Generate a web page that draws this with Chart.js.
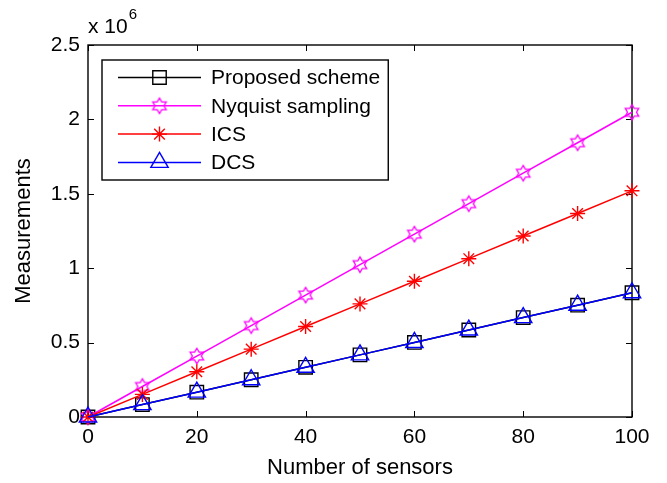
<!DOCTYPE html>
<html>
<head>
<meta charset="utf-8">
<script src="https://cdn.jsdelivr.net/npm/chart.js@4.4.1/dist/chart.umd.min.js"></script>
<style>
  html, body { margin: 0; padding: 0; background: #fff; }
  #wrap { width: 667px; height: 483px; }
</style>
</head>
<body>
<div id="wrap"><canvas id="chart" width="667" height="483"></canvas></div>
<script>
const sensors = [0, 10, 20, 30, 40, 50, 60, 70, 80, 90, 100];
const proposed = [0, 83500, 167000, 250500, 334000, 417500, 501000, 584500, 668000, 751500, 835000];
const nyquist = [0, 204800, 409600, 614400, 819200, 1024000, 1228800, 1433600, 1638400, 1843200, 2048000];
const ics = [0, 152000, 304000, 456000, 608000, 760000, 912000, 1064000, 1216000, 1368000, 1520000];
const dcs = [0, 83500, 167000, 250500, 334000, 417500, 501000, 584500, 668000, 751500, 835000];
const seriesLabels = ['Proposed scheme', 'Nyquist sampling', 'ICS', 'DCS'];
const xTicks = [0, 20, 40, 60, 80, 100];
const yTicks = [0, 500000, 1000000, 1500000, 2000000, 2500000];

const FONT = "'Liberation Sans', Arial, Helvetica, sans-serif";

// hexagram marker (MATLAB 'h'), drawn once to an offscreen canvas
function hexagram(color, R) {
  const s = Math.ceil(R * 2 + 4);
  const c = document.createElement('canvas');
  c.width = s; c.height = s;
  const g = c.getContext('2d');
  const r = R / Math.sqrt(3);
  g.beginPath();
  for (let k = 0; k < 12; k++) {
    const a = -Math.PI / 2 + k * Math.PI / 6;
    const rr = k % 2 === 0 ? R : r;
    const px = s / 2 + rr * Math.cos(a), py = s / 2 + rr * Math.sin(a);
    if (k === 0) g.moveTo(px, py); else g.lineTo(px, py);
  }
  g.closePath();
  g.strokeStyle = color;
  g.lineWidth = 1.3;
  g.stroke();
  return c;
}

const toXY = arr => arr.map((v, i) => ({ x: sensors[i], y: v }));

const datasets = [
  { label: seriesLabels[0], data: toXY(proposed), borderColor: '#000000', pointStyle: 'rect', pointRadius: 9.5, order: 4 },
  { label: seriesLabels[1], data: toXY(nyquist), borderColor: '#ff00ff', pointStyle: hexagram('#ff00ff', 7.8), pointRadius: 8, order: 3 },
  { label: seriesLabels[2], data: toXY(ics), borderColor: '#ff0000', pointStyle: 'star', pointRadius: 7.5, order: 2 },
  { label: seriesLabels[3], data: toXY(dcs), borderColor: '#0000ff', pointStyle: 'triangle', pointRadius: 10, order: 1 },
].map(d => Object.assign({
  borderWidth: 1.5,
  pointBorderColor: d.borderColor,
  pointBackgroundColor: 'rgba(0,0,0,0)',
  pointBorderWidth: 1.4,
  pointHoverRadius: d.pointRadius,
  fill: false,
  tension: 0,
  clip: false,
}, d));

// MATLAB style box, inward ticks, exponent label
const axesBox = {
  id: 'axesBox',
  beforeDatasetsDraw(chart) {
    const { ctx, chartArea: a, scales } = chart;
    ctx.save();
    ctx.strokeStyle = '#000';
    ctx.lineWidth = 1.4;
    ctx.strokeRect(a.left, a.top, a.right - a.left, a.bottom - a.top);
    ctx.lineWidth = 1;
    const tl = 6;
    ctx.beginPath();
    xTicks.forEach(v => {
      const px = Math.round(scales.x.getPixelForValue(v)) + 0.5;
      ctx.moveTo(px, a.bottom); ctx.lineTo(px, a.bottom - tl);
      ctx.moveTo(px, a.top); ctx.lineTo(px, a.top + tl);
    });
    yTicks.forEach(v => {
      const py = Math.round(scales.y.getPixelForValue(v)) + 0.5;
      ctx.moveTo(a.left, py); ctx.lineTo(a.left + tl, py);
      ctx.moveTo(a.right, py); ctx.lineTo(a.right - tl, py);
    });
    ctx.stroke();
    ctx.fillStyle = '#000';
    ctx.textBaseline = 'alphabetic';
    ctx.textAlign = 'left';
    ctx.font = '21px ' + FONT;
    ctx.fillText('x 10', a.left, 33);
    const w = ctx.measureText('x 10').width;
    ctx.font = '15px ' + FONT;
    ctx.fillText('6', a.left + w + 1, 19);
    ctx.restore();
  }
};

// MATLAB style legend: line sample with marker in the middle
const matLegend = {
  id: 'matLegend',
  afterDatasetsDraw(chart) {
    const { ctx } = chart;
    const drawPoint = Chart.helpers.drawPoint;
    const left = 102, top = 60, rowH = 28.3, firstY = 77.5;
    const lineX0 = 118, lineX1 = 201, textX = 211;
    ctx.save();
    ctx.font = '21px ' + FONT;
    const maxW = Math.max(...chart.data.datasets.map(d => ctx.measureText(d.label).width));
    const right = textX + maxW + 8;
    const bottom = 180;
    ctx.fillStyle = '#fff';
    ctx.fillRect(left, top, right - left, bottom - top);
    ctx.strokeStyle = '#000';
    ctx.lineWidth = 1.4;
    ctx.strokeRect(left, top, right - left, bottom - top);
    chart.data.datasets.forEach((d, i) => {
      const y = firstY + i * rowH;
      ctx.strokeStyle = d.borderColor;
      ctx.lineWidth = d.borderWidth;
      ctx.beginPath();
      ctx.moveTo(lineX0, y); ctx.lineTo(lineX1, y);
      ctx.stroke();
      ctx.fillStyle = 'rgba(0,0,0,0)';
      ctx.strokeStyle = d.borderColor;
      ctx.lineWidth = d.pointBorderWidth;
      drawPoint(ctx, { pointStyle: d.pointStyle, radius: d.pointRadius, rotation: 0, borderWidth: d.pointBorderWidth }, (lineX0 + lineX1) / 2, y);
      ctx.fillStyle = '#000';
      ctx.textBaseline = 'middle';
      ctx.textAlign = 'left';
      ctx.fillText(d.label, textX, y + 1);
    });
    ctx.restore();
  }
};

new Chart(document.getElementById('chart'), {
  type: 'line',
  data: { datasets },
  plugins: [axesBox, matLegend],
  options: {
    responsive: false,
    animation: false,
    devicePixelRatio: 1,
    layout: { padding: { left: 0, right: 35, top: 45, bottom: 0 } },
    plugins: { legend: { display: false }, tooltip: { enabled: false } },
    scales: {
      x: {
        type: 'linear',
        min: 0,
        max: 100,
        afterBuildTicks: s => { s.ticks = xTicks.map(v => ({ value: v })); },
        afterFit: s => { s.height = 66; },
        grid: { display: false, drawTicks: false },
        border: { display: false },
        ticks: { color: '#000', font: { family: FONT, size: 21 }, padding: 8, maxRotation: 0 },
        title: { display: true, text: 'Number of sensors', color: '#000', font: { family: FONT, size: 22 }, padding: { top: 0, bottom: 2 } },
      },
      y: {
        type: 'linear',
        min: 0,
        max: 2500000,
        afterBuildTicks: s => { s.ticks = yTicks.map(v => ({ value: v })); },
        afterFit: s => { s.width = 88; },
        grid: { display: false, drawTicks: false },
        border: { display: false },
        ticks: { color: '#000', font: { family: FONT, size: 21 }, padding: 8, callback: v => String(v / 1e6) },
        title: { display: true, text: 'Measurements', color: '#000', font: { family: FONT, size: 22 }, padding: { top: 11, bottom: 0 } },
      },
    },
  },
});
</script>
</body>
</html>
